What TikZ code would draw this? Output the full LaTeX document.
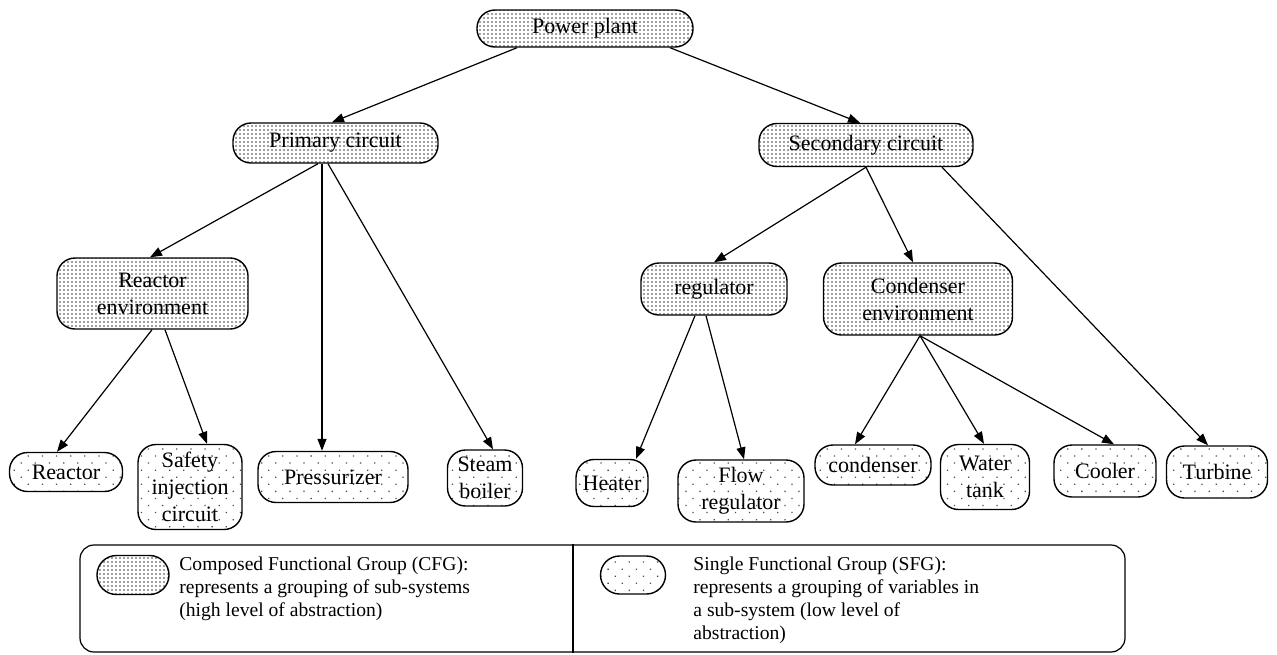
\documentclass[tikz,border=0pt]{standalone}
\usepackage{fontspec}
\setmainfont{Liberation Serif}
\usetikzlibrary{arrows.meta,patterns.meta}

\begin{document}
\begin{tikzpicture}[>={Triangle[length=6pt,width=4.5pt]},x=0.5pt,y=-0.5pt,
	grp/.style={draw,line width=0.7pt,rounded corners=9pt,align=center,inner sep=0pt,font=\fontsize{11}{13.5}\selectfont},
	cfg/.style={grp,pattern={Dots[distance=2pt,radius=0.42pt]},pattern color=black!75},
	sfg/.style={grp,pattern={Dots[distance=5pt,angle=45,radius=0.45pt]},pattern color=black!70},
	edge/.style={->,line width=0.6pt}]
	\useasboundingbox (0,0) rectangle (1277,654);
	\node[cfg,minimum width=108pt,minimum height=18.5pt] (power) at (585,28.5) {Power plant};
	\node[cfg,minimum width=102.5pt,minimum height=20pt] (primary) at (335.5,143) {Primary circuit};
	\node[cfg,minimum width=107pt,minimum height=21.5pt] (secondary) at (866,145) {Secondary circuit};
	\node[cfg,minimum width=95.5pt,minimum height=35.5pt] (reacenv) at (152.5,293.5) {Reactor\\environment};
	\node[cfg,minimum width=73pt,minimum height=26pt] (regul) at (714,289) {regulator};
	\node[cfg,minimum width=94.5pt,minimum height=36pt] (condenv) at (918,299) {Condenser\\environment};
	\node[sfg,minimum width=56.5pt,minimum height=19.5pt] (reactor) at (66,472) {Reactor};
	\node[sfg,minimum width=52pt,minimum height=42.5pt] (safety) at (190,487) {Safety\\injection\\circuit};
	\node[sfg,minimum width=75pt,minimum height=25.5pt] (press) at (333,477) {Pressurizer};
	\node[sfg,minimum width=37.5pt,minimum height=28pt] (steam) at (485,478) {Steam\\boiler};
	\node[sfg,minimum width=36pt,minimum height=23.5pt] (heater) at (612,483) {Heater};
	\node[sfg,minimum width=63pt,minimum height=31pt] (flowreg) at (741,491) {Flow\\regulator};
	\node[sfg,minimum width=58pt,minimum height=20pt] (condenser) at (873,465) {condenser};
	\node[sfg,minimum width=44.5pt,minimum height=32.5pt] (water) at (985,477) {Water\\tank};
	\node[sfg,minimum width=51pt,minimum height=26pt] (cooler) at (1105,471) {Cooler};
	\node[sfg,minimum width=50.5pt,minimum height=26pt] (turbine) at (1217,472) {Turbine};
	\draw[edge] ([shift={(-68,0)}]power.south) -- ([shift={(-3.5,0)}]primary.north);
	\draw[edge] ([shift={(85,0)}]power.south) -- ([shift={(-6,0)}]secondary.north);
	\draw[edge] ([shift={(-17.5,0)}]primary.south) -- ([shift={(-2.5,0)}]reacenv.north);
	\draw[edge] ([shift={(-13.5,0)}]primary.south) -- ([shift={(-11,0)}]press.north);
	\draw[edge] ([shift={(-7.5,0)}]primary.south) -- ([shift={(8,0)}]steam.north);
	\draw[edge] ([shift={(-0.5,0)}]reacenv.south) -- ([shift={(-9,0)}]reactor.north);
	\draw[edge] ([shift={(12.5,0)}]reacenv.south) -- ([shift={(17,0)}]safety.north);
	\draw[edge] (secondary.south) -- (regul.north);
	\draw[edge] (secondary.south) -- ([shift={(-5,0)}]condenv.north);
	\draw[edge] ([shift={(76,0)}]secondary.south) -- ([shift={(-9,0)}]turbine.north);
	\draw[edge] ([shift={(-19,0)}]regul.south) -- ([shift={(24,0)}]heater.north);
	\draw[edge] ([shift={(-8,0)}]regul.south) -- ([shift={(3,0)}]flowreg.north);
	\draw[edge] ([shift={(2,0)}]condenv.south) -- ([shift={(-18,0)}]condenser.north);
	\draw[edge] ([shift={(2,0)}]condenv.south) -- ([shift={(-1,0)}]water.north);
	\draw[edge] ([shift={(2,0)}]condenv.south) -- ([shift={(9,0)}]cooler.north);
	\node[draw,line width=0.6pt,rounded corners=7pt,minimum width=522.5pt,minimum height=53.5pt] (legend) at (602.5,598.5) {};
	\draw[line width=0.6pt] ([shift={(-29.5,0)}]legend.north) -- ([shift={(-29.5,0)}]legend.south);
	\node[cfg,rounded corners=9.7pt,minimum width=36pt,minimum height=19.5pt] (cfgicon) at (133,575) {};
	\node[sfg,rounded corners=9.5pt,minimum width=32.5pt,minimum height=19pt] (sfgicon) at (633,575) {};
	\node[anchor=north west,align=left,inner sep=0pt,font=\fontsize{9.8}{11.5}\selectfont] (cfgtext) at (179,556) {Composed Functional Group (CFG):\\represents a grouping of sub-systems\\(high level of abstraction)};
	\node[anchor=north west,align=left,inner sep=0pt,font=\fontsize{9.8}{11.5}\selectfont] (sfgtext) at (693,556) {Single Functional Group (SFG):\\represents a grouping of variables in\\a sub-system (low level of\\abstraction)};
\end{tikzpicture}
\end{document}
